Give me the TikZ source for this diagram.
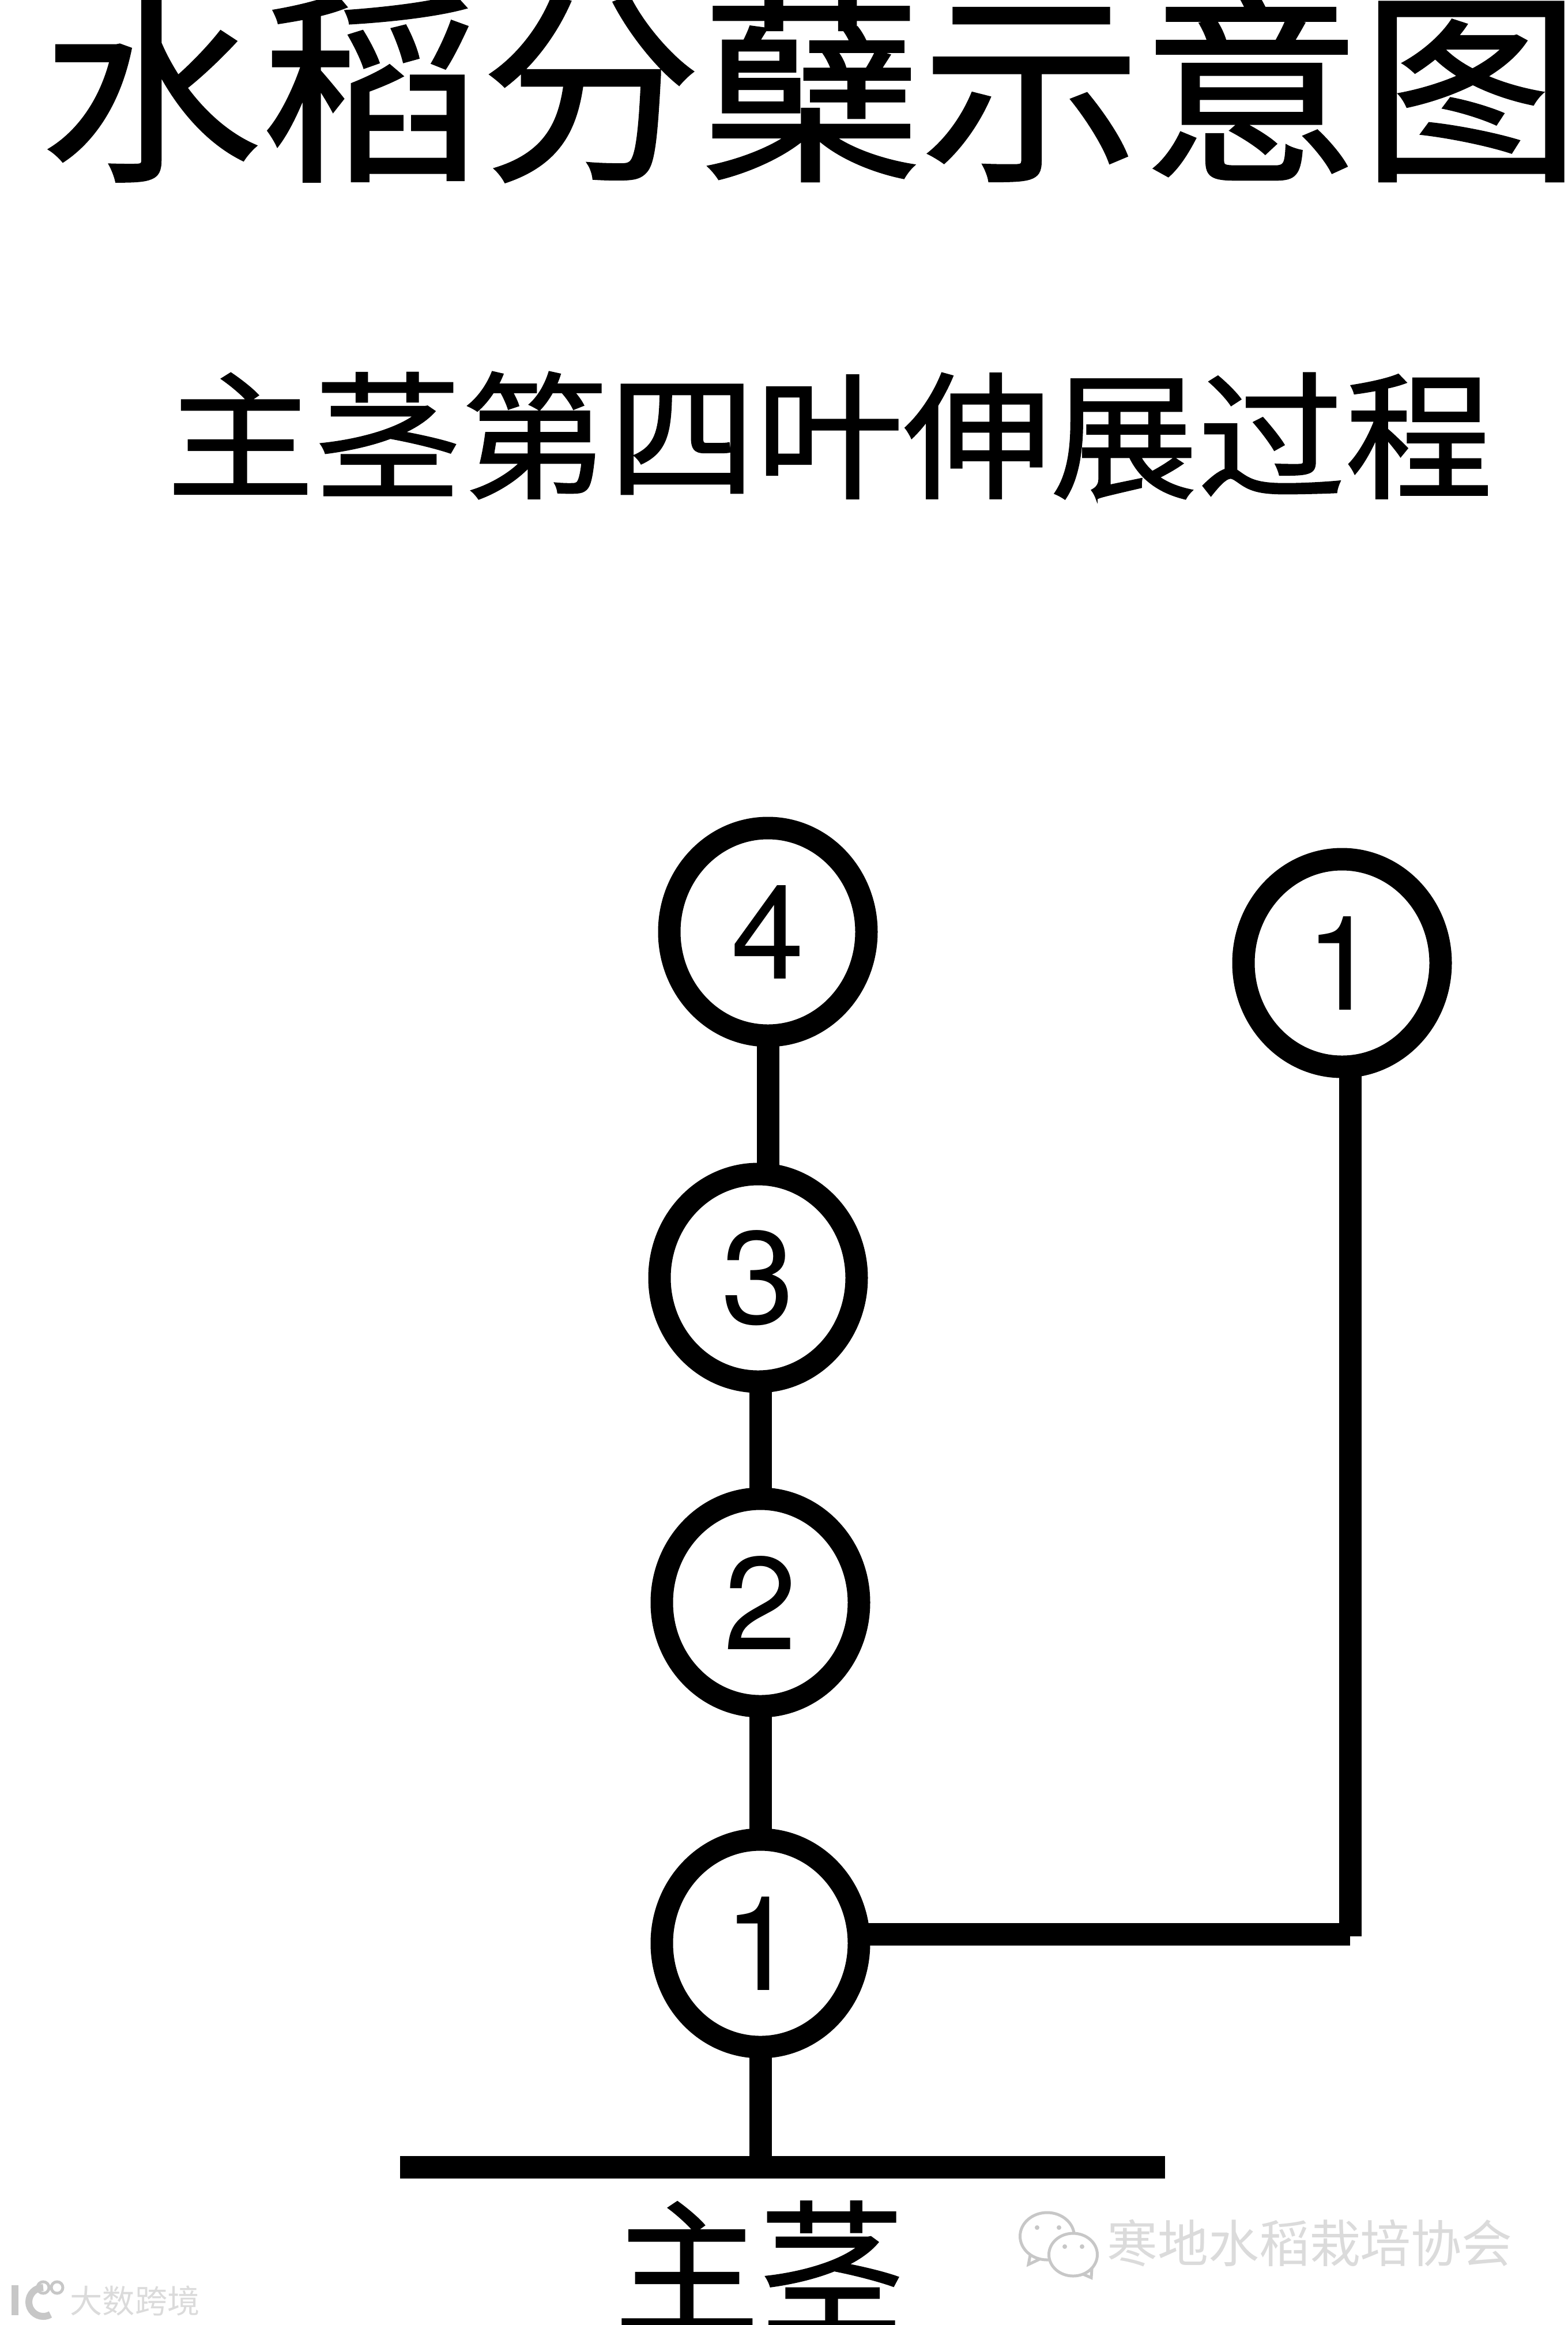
\documentclass[tikz,border=0pt]{standalone}
\usepackage{fontspec}
\setmainfont{TeX Gyre Heros}
\newfontfamily\cjk{Noto Sans CJK SC}
\newfontfamily\cjkheavy[FakeBold=1.2]{Noto Sans CJK SC}
\usepackage{xcolor}
\usepackage{tikz}
\usetikzlibrary{arrows.meta,positioning,shapes.geometric}

\begin{document}
\begin{tikzpicture}[
  node distance=2.4cm,
  leaf/.style={ellipse, draw=black, line width=3.9mm, inner sep=0pt, outer sep=0pt, minimum width=3.42cm, minimum height=3.6cm, font=\fontsize{65}{65}\selectfont},
  stemline/.style={line width=3.9mm, draw=black},
  titletext/.style={inner sep=0pt, yscale=0.93, transform shape, font=\cjkheavy\fontsize{108.6}{110}\selectfont},
  subtext/.style={inner sep=0pt, yscale=0.93, transform shape, font=\cjkheavy\fontsize{72.7}{73}\selectfont},
  marktext/.style={inner sep=0pt, text=black!14},
  markline/.style={draw=black!22, line width=0.5mm, fill=white}
]
\useasboundingbox (0,0) rectangle (27.2,-40.32);

\node[titletext] (title) at (14.07,-1.5) {水稻分蘖示意图};
\node[subtext] (subtitle) at (14.39,-7.55) {主茎第四叶伸展过程};

\node[leaf] (leaffour) at (13.32,-16.16) {4};
\node[leaf, below=of leaffour, xshift=-0.17cm] (leafthree) {3};
\node[leaf, below=2.03cm of leafthree, xshift=0.04cm] (leaftwo) {2};
\node[leaf, below=2.31cm of leaftwo] (leafone) {1};
\node[leaf] (tiller) at (23.28,-16.7) {1};

\node[rectangle, fill=black, inner sep=0pt, outer sep=0pt, minimum width=13.27cm, minimum height=3.9mm] (bar) at (13.575,-37.58) {};
\node[inner sep=0pt, font=\cjkheavy\fontsize{71.5}{72}\selectfont] (mainstem) at (13.17,-39.3) {主茎};

\coordinate (bend) at (23.42,-33.54);

\draw[stemline] (leaffour.south) -- (leaffour.south |- leafthree.north);
\draw[stemline] (leaftwo.north |- leafthree.south) -- (leaftwo.north);
\draw[stemline] (leaftwo.south) -- (leafone.north);
\draw[stemline] (leafone.south) -- (leafone.south |- bar.center);
\draw[stemline, shorten >=-0.4mm] (bend |- tiller.south) -- (bend);
\draw[stemline] (bend -| leafone.east) -- (bend);

% watermarks
\draw[markline] (17.84,-39.27) -- (17.9,-38.95) -- (18.2,-39.1) -- cycle;
\draw[markline] (18.165,-38.78) ellipse (0.47cm and 0.41cm);
\draw[markline] (18.93,-39.5) -- (18.95,-39.2) -- (18.7,-39.4) -- cycle;
\draw[markline] (18.615,-39.1) ellipse (0.42cm and 0.37cm);
\fill[black!22] (17.99,-38.63) circle (0.04cm) (18.37,-38.63) circle (0.04cm) (18.47,-38.96) circle (0.04cm) (18.77,-38.96) circle (0.04cm);
\node[marktext, font=\cjk\fontsize{25}{25}\selectfont] (society) at (22.72,-38.9) {寒地水稻栽培协会};
\draw[markline, fill=none, line width=1.2mm] (0.26,-39.63) -- (0.26,-40.15);
\draw[markline, fill=none, line width=1.2mm] (0.75,-39.67) arc (90:300:0.25cm);
\draw[markline, fill=none] (0.75,-39.67) circle (0.1cm) (0.99,-39.67) circle (0.1cm);
\node[marktext, font=\cjk\fontsize{16}{16}\selectfont] (border) at (2.34,-39.9) {大数跨境};
\end{tikzpicture}
\end{document}
